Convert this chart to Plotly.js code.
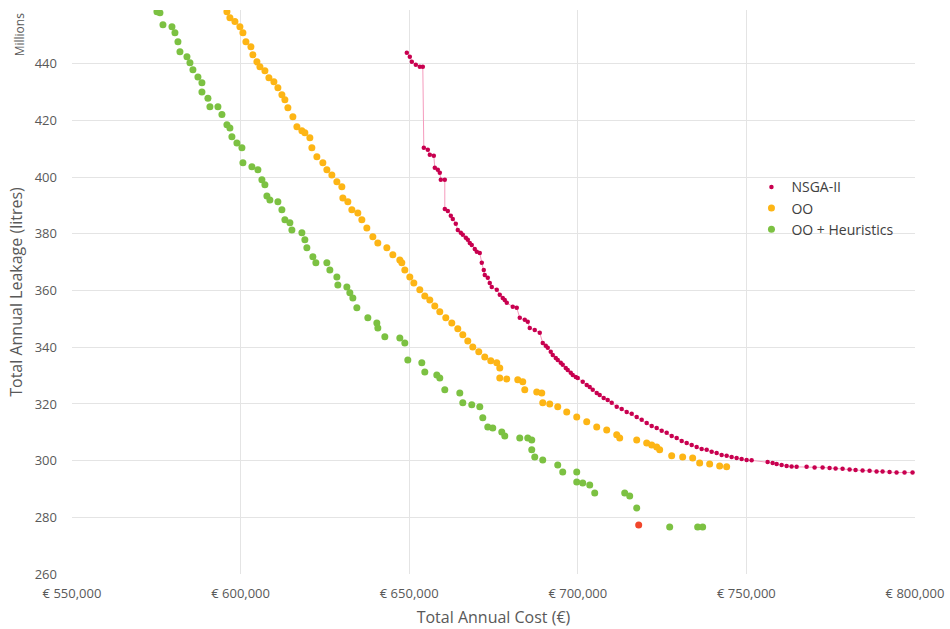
<!DOCTYPE html>
<html>
<head>
<meta charset="utf-8">
<script src="https://cdn.plot.ly/plotly-3.0.1.min.js"></script>
<style>html,body{margin:0;padding:0;background:#fff;}#chart{width:950px;height:629px;}</style>
</head>
<body>
<div id="chart"></div>
<script>
// Total annual cost (€) and total annual leakage (millions of litres)
const nsgaCost = [649294,650183,650776,651962,653147,654036,654333,655518,656111,657297,657593,658482,659075,659372,660557,660557,661446,662336,662928,663818,664410,665300,665892,666782,667374,667967,668560,669449,670042,670931,671524,672117,672413,673302,673895,674488,675970,676859,677748,678341,678934,680712,681898,682787,684269,685158,685751,687233,688715,689604,690494,691086,691976,692568,693458,694050,694940,695532,696422,697014,697904,698496,699386,699978,701460,702646,703535,704424,705610,706499,707685,708870,710056,711538,713020,714502,715984,717466,718948,720430,721912,723394,724876,726358,727840,729322,730804,732286,733768,735250,736732,738214,739696,741178,742660,744142,745624,747106,748588,750070,751552,756294,757776,758962,760444,761926,763408,764890,767854,770225,772596,774671,776450,778524,780599,782378,784452,786527,788602,790380,792455,794530,796901,799272];
const nsgaLeak = [443.9,442.5,440.7,439.7,439.0,439.0,410.4,409.7,407.9,407.6,403.3,402.6,401.6,399.1,399.1,388.8,388.1,386.4,385.3,383.6,381.4,380.4,379.7,378.6,377.9,376.8,376.1,374.7,373.7,373.3,369.8,367.3,365.5,364.5,362.7,361.3,360.3,358.5,357.4,356.7,355.7,354.3,353.9,350.4,349.7,349.0,346.8,346.1,345.1,341.5,340.5,339.8,338.4,337.3,336.2,335.5,334.5,333.8,332.7,332.0,331.0,330.2,329.5,329.2,327.8,326.7,326.0,325.0,323.9,323.2,322.1,321.4,320.4,319.0,318.2,317.2,316.5,315.4,314.4,313.3,312.2,311.5,310.5,309.8,308.7,308.0,306.9,306.2,305.5,304.8,304.1,303.8,303.1,302.7,302.0,301.7,301.3,300.9,300.6,300.2,300.1,299.5,299.2,298.8,298.5,298.1,297.9,297.8,297.8,297.6,297.6,297.4,297.2,297.1,296.9,296.7,296.5,296.4,296.2,296.2,296.0,295.8,295.8,295.8];

const ooCost = [595942,596831,598313,599795,600684,601574,603056,603649,604834,605723,607205,608391,609873,611058,612244,613133,614022,615504,616690,618172,619061,620543,621136,622618,624396,625582,627064,628546,630028,630324,631806,632992,634770,635956,637438,639216,640698,643366,645144,647219,647812,648701,650183,651369,653147,654629,656111,657593,659075,660854,662632,664410,665892,667374,668856,670635,672413,674192,675970,676859,676859,678934,682194,683676,684269,687826,689308,689604,691679,694050,696718,699682,702646,705610,708574,711538,712427,717466,720430,721912,723394,724283,727840,731100,734064,736139,739103,742067,744142];
const ooLeak = [458.4,456.3,454.9,453.1,451.0,447.8,446.0,443.2,440.7,439.0,437.6,435.1,433.7,431.6,429.1,427.3,424.5,421.3,417.8,416.4,415.7,413.9,410.4,407.2,405.1,402.6,400.8,398.4,396.6,392.7,391.3,388.5,387.4,385.0,382.1,379.0,376.8,375.1,372.6,370.8,369.8,367.3,364.8,362.7,360.3,358.1,356.7,354.6,352.5,350.4,348.6,346.5,344.4,342.2,340.1,338.4,336.6,335.2,334.5,332.7,329.2,328.8,328.5,327.8,325.0,324.2,323.9,320.4,320.0,319.0,317.2,315.4,313.7,311.9,310.8,309.1,308.0,307.3,306.2,305.5,304.8,303.8,301.7,301.3,300.9,299.2,298.8,298.1,297.8];

const heurCost = [575194,576083,576972,579640,580529,581418,582011,584086,584975,585864,587346,588532,588532,590310,590903,593274,594460,595942,596831,597424,598906,600388,600684,603352,605130,606316,607205,607798,608687,611058,612244,613133,614615,615208,618172,619061,619654,621432,622322,625582,626471,628546,628842,631510,632399,633288,634474,637734,640402,640698,642773,647219,648701,649590,653740,654629,658186,659075,660557,665003,665892,668560,670931,671820,673302,674784,677452,678341,682787,685158,686344,686344,687233,689604,694050,695532,699682,699682,701460,703535,705017,713909,715391,717466,727247,735546,737028];
const heurLeak = [458.4,458.0,453.8,453.1,451.0,447.8,444.3,442.5,440.4,437.9,435.4,433.3,430.1,427.9,424.9,424.9,422.1,418.5,417.4,414.3,412.1,410.4,405.1,403.7,402.6,399.1,397.3,393.4,392.0,391.3,388.5,385.0,383.9,381.4,380.4,377.9,375.1,371.9,369.8,369.8,367.3,364.8,362.0,361.3,359.2,357.4,353.9,350.4,348.6,346.8,343.7,343.3,341.5,335.5,334.5,331.3,330.2,329.2,325.0,323.9,320.4,319.7,319.0,315.1,311.9,311.5,310.1,308.7,308.0,308.0,307.3,303.8,301.3,300.2,298.5,296.0,296.0,292.5,292.1,291.4,288.6,288.6,287.5,283.3,276.6,276.6,276.6];

const highlightCost = [718059];
const highlightLeak = [277.3];

const seriesNames = ['NSGA-II', 'OO', 'OO + Heuristics'];

const fontFam = '"Open Sans", "Noto Sans", "DejaVu Sans", sans-serif';
const grey = '#595959';

const traces = [
  {
    x: nsgaCost, y: nsgaLeak, name: seriesNames[0] + ' line', type: 'scatter', mode: 'lines',
    showlegend: false,
    line: {color: '#f59bbd', width: 1}
  },
  {
    x: nsgaCost, y: nsgaLeak, name: seriesNames[0], type: 'scatter', mode: 'markers',
    marker: {color: '#c8004f', size: 4.5}
  },
  {
    x: ooCost, y: ooLeak, name: seriesNames[1], type: 'scatter', mode: 'markers',
    marker: {color: '#fdb515', size: 7}
  },
  {
    x: heurCost, y: heurLeak, name: seriesNames[2], type: 'scatter', mode: 'markers',
    marker: {color: '#7cc142', size: 7}
  },
  {
    x: highlightCost, y: highlightLeak, name: 'highlight', type: 'scatter', mode: 'markers',
    showlegend: false,
    marker: {color: '#f1462b', size: 7}
  }
];

const layout = {
  width: 950, height: 629,
  margin: {l: 72, r: 35, t: 10, b: 55},
  paper_bgcolor: '#ffffff', plot_bgcolor: '#ffffff',
  font: {family: fontFam, color: grey, size: 13},
  showlegend: true,
  legend: {
    x: 0.806, y: 0.714, xanchor: 'left', yanchor: 'top',
    bgcolor: 'rgba(0,0,0,0)', font: {size: 14, color: '#404040'},
    itemsizing: 'trace', tracegroupgap: 0
  },
  xaxis: {
    range: [550000, 800000], dtick: 50000, tick0: 550000,
    tickprefix: '€ ', tickformat: ',d',
    showgrid: true, gridcolor: '#e4e4e4', gridwidth: 1,
    zeroline: false, showline: false, ticks: '',
    ticklabelstandoff: 10,
    tickfont: {size: 13, color: grey},
    title: {text: 'Total Annual Cost (€)', font: {size: 16, color: grey}, standoff: 10}
  },
  yaxis: {
    range: [260, 459], dtick: 20, tick0: 260,
    showgrid: true, gridcolor: '#e4e4e4', gridwidth: 1,
    zeroline: false, showline: false, ticks: '',
    ticklabelstandoff: 14,
    tickfont: {size: 13, color: grey},
    title: {text: 'Total Annual Leakage (litres)', font: {size: 16, color: grey}, standoff: 8}
  },
  annotations: [
    {
      text: 'Millions', xref: 'paper', yref: 'paper', x: -0.062, y: 0.998,
      xanchor: 'center', yanchor: 'top', textangle: -90, showarrow: false,
      font: {size: 12, color: grey}
    }
  ]
};

Plotly.newPlot('chart', traces, layout, {displayModeBar: false, staticPlot: true});
</script>
</body>
</html>
